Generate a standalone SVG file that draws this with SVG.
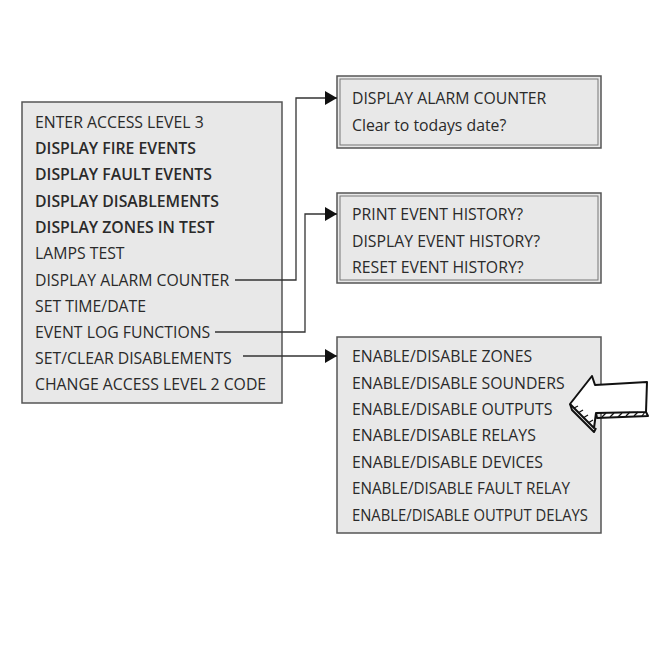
<svg xmlns="http://www.w3.org/2000/svg" width="650" height="650" viewBox="0 0 650 650">
<defs>
<style>
.box{fill:#e8e8e8;stroke:#555;stroke-width:1.5}
.inner{fill:none;stroke:#777;stroke-width:1}
.t{font-family:"Open Sans","Liberation Sans",sans-serif;font-size:15.8px;fill:#2a2a2a}
.b{font-weight:600}
.c{fill:none;stroke:#333;stroke-width:1.3}
</style>
<marker id="ah" viewBox="0 0 12 14" refX="12" refY="7" markerWidth="12" markerHeight="14" markerUnits="userSpaceOnUse" orient="auto">
<path d="M0,0 L12,7 L0,14 Z" fill="#111"/>
</marker>
</defs>
<rect width="650" height="650" fill="#fff"/>
<g id="main-menu">
<rect class="box" x="22" y="102" width="260" height="301"/>
<text class="t" x="35" y="128">ENTER ACCESS LEVEL 3</text>
<text class="t b" x="35" y="154">DISPLAY FIRE EVENTS</text>
<text class="t b" x="35" y="180">DISPLAY FAULT EVENTS</text>
<text class="t b" x="35" y="207">DISPLAY DISABLEMENTS</text>
<text class="t b" x="35" y="233">DISPLAY ZONES IN TEST</text>
<text class="t" x="35" y="259">LAMPS TEST</text>
<text class="t" x="35" y="286">DISPLAY ALARM COUNTER</text>
<text class="t" x="35" y="312">SET TIME/DATE</text>
<text class="t" x="35" y="338">EVENT LOG FUNCTIONS</text>
<text class="t" x="35" y="364">SET/CLEAR DISABLEMENTS</text>
<text class="t" x="35" y="390">CHANGE ACCESS LEVEL 2 CODE</text>
</g>
<g id="alarm-counter">
<rect class="box" x="337" y="76" width="264" height="72"/>
<rect class="inner" x="340" y="79" width="258" height="66"/>
<text class="t" x="352" y="104">DISPLAY ALARM COUNTER</text>
<text class="t" x="352" y="131">Clear to todays date?</text>
</g>
<g id="event-history">
<rect class="box" x="337" y="193" width="264" height="90"/>
<rect class="inner" x="340" y="196" width="258" height="84"/>
<text class="t" x="352" y="220">PRINT EVENT HISTORY?</text>
<text class="t" x="352" y="247">DISPLAY EVENT HISTORY?</text>
<text class="t" x="352" y="273">RESET EVENT HISTORY?</text>
</g>
<g id="disablements">
<rect class="box" x="337" y="337" width="264" height="196"/>
<text class="t" x="352" y="362">ENABLE/DISABLE ZONES</text>
<text class="t" x="352" y="389">ENABLE/DISABLE SOUNDERS</text>
<text class="t" x="352" y="415">ENABLE/DISABLE OUTPUTS</text>
<text class="t" x="352" y="441">ENABLE/DISABLE RELAYS</text>
<text class="t" x="352" y="468">ENABLE/DISABLE DEVICES</text>
<text class="t" x="352" y="494" textLength="218" lengthAdjust="spacingAndGlyphs">ENABLE/DISABLE FAULT RELAY</text>
<text class="t" x="352" y="521" textLength="236" lengthAdjust="spacingAndGlyphs">ENABLE/DISABLE OUTPUT DELAYS</text>
</g>
<g id="connectors">
<path class="c" d="M235,280 H296 V98 H337" marker-end="url(#ah)"/>
<path class="c" d="M215,332 H305 V214 H337" marker-end="url(#ah)"/>
<path class="c" d="M243,356 H337" marker-end="url(#ah)"/>
</g>
<g id="pointer-arrow" fill="none" stroke="#111" stroke-width="2" stroke-linejoin="round">
<path d="M592,376 L570,404 L594,428 L596,413 L646,412 L647,382 L595,385 Z" fill="#fff"/>
<path d="M570,404 L572,410 L594,432 L596,428"/>
<path d="M596,413 L597,418 L648,416 L646,412"/>
<g stroke-width="1.2">
<line x1="574" y1="408" x2="578" y2="406"/>
<line x1="578" y1="413" x2="583" y2="410"/>
<line x1="583" y1="418" x2="588" y2="415"/>
<line x1="588" y1="423" x2="593" y2="420"/>
<line x1="602" y1="417" x2="606" y2="413"/>
<line x1="610" y1="417" x2="614" y2="413"/>
<line x1="618" y1="417" x2="622" y2="413"/>
<line x1="626" y1="416" x2="630" y2="412"/>
<line x1="634" y1="416" x2="638" y2="412"/>
<line x1="642" y1="416" x2="645" y2="412"/>
</g>
</g>
</svg>
